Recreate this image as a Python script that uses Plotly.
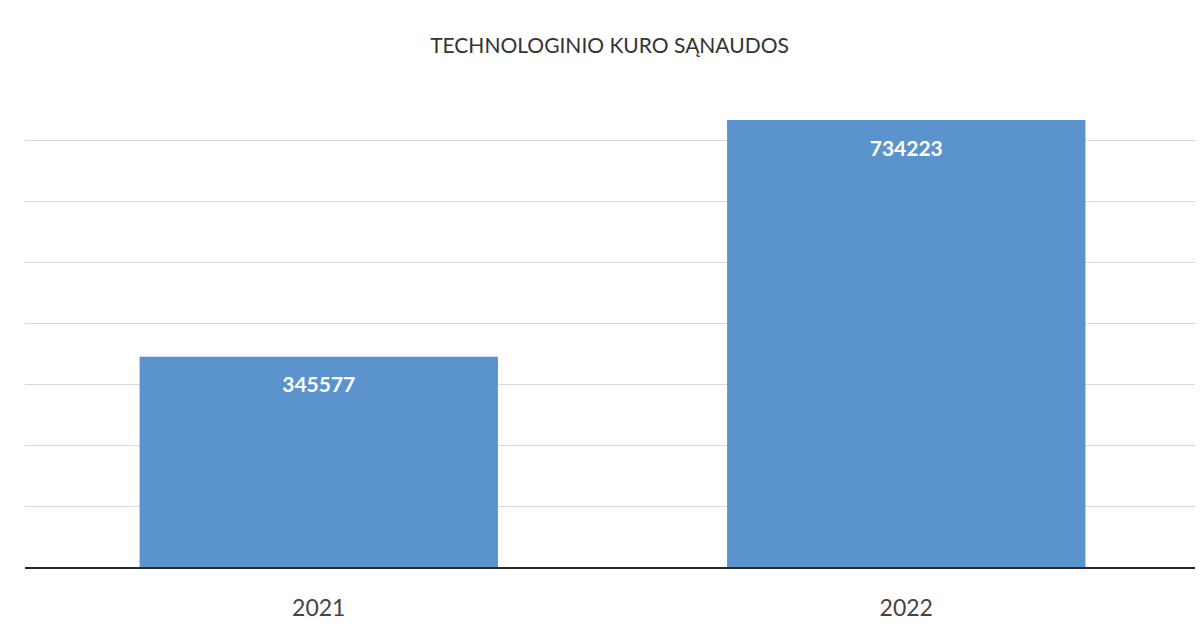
import plotly.graph_objects as go

categories = ["2021", "2022"]
values = [345577, 734223]
labels = ["345577", "734223"]
title_text = "TECHNOLOGINIO KURO SĄNAUDOS"

FONT = "Lato, Open Sans, sans-serif"

fig = go.Figure()
fig.add_trace(go.Bar(
    x=categories,
    y=values,
    marker=dict(color="#5b94cc", line=dict(width=0)),
    width=0.61,
    hoverinfo="skip",
))
fig.add_trace(go.Scatter(
    x=categories,
    y=values,
    mode="markers+text",
    text=labels,
    textposition="bottom center",
    marker=dict(size=30, color="rgba(0,0,0,0)"),
    textfont=dict(family=FONT, size=21, color="white", weight="bold"),
    cliponaxis=False,
))

fig.update_layout(
    width=1203, height=631,
    paper_bgcolor="white", plot_bgcolor="white",
    margin=dict(l=17, r=11, t=72, b=72),
    title=dict(text=title_text, x=0.5, xanchor="center", y=0.941, yanchor="middle",
               font=dict(family=FONT, size=21, color="#333333")),
    showlegend=False,
)
fig.update_xaxes(
    type="category",
    showgrid=False, showline=True, linecolor="#2b2b2b", linewidth=1.5,
    ticks="outside", ticklen=20, tickcolor="rgba(0,0,0,0)",
    tickfont=dict(family=FONT, size=23, color="#444444"),
)
fig.update_yaxes(
    range=[0, 800000], dtick=100000, showgrid=True, gridcolor="#d9d9d9", gridwidth=1,
    showticklabels=False, zeroline=False, showline=False,
)

fig.write_html("out.html")
